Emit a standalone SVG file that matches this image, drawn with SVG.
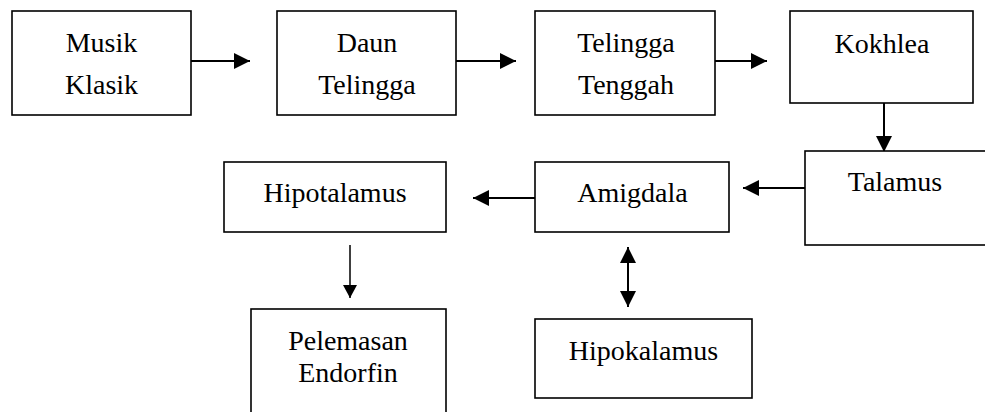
<svg xmlns="http://www.w3.org/2000/svg" width="985" height="412" viewBox="0 0 985 412">
<style>
.box{fill:#fff;stroke:#000;stroke-width:1.6}
.c{stroke:#000;stroke-width:2;fill:none}
.thin{stroke-width:1.5}
text{font-family:'Liberation Serif',serif;font-size:14px;fill:#000;text-anchor:middle}
</style>
<defs>
<marker id="ah" markerUnits="userSpaceOnUse" markerWidth="16" markerHeight="16" refX="15" refY="7.5" orient="auto-start-reverse" viewBox="0 0 15 15">
<path d="M0,0 L15,7.5 L0,15 z" fill="#000"/>
</marker>
<marker id="ahs" markerUnits="userSpaceOnUse" markerWidth="13" markerHeight="14" refX="13" refY="7" orient="auto" viewBox="0 0 13 14">
<path d="M0,0 L13,7 L0,14 z" fill="#000"/>
</marker>
</defs>
<rect width="985" height="412" fill="#fff"/>
<g id="connectors">
<line class="c" x1="191" y1="61" x2="250" y2="61" marker-end="url(#ah)"/>
<line class="c" x1="456" y1="61" x2="516" y2="61" marker-end="url(#ah)"/>
<line class="c" x1="715" y1="61" x2="767" y2="61" marker-end="url(#ah)"/>
<line class="c" x1="884" y1="103" x2="884" y2="152" marker-end="url(#ah)"/>
<line class="c" x1="805" y1="188" x2="743" y2="188" marker-end="url(#ah)"/>
<line class="c" x1="535" y1="198" x2="473" y2="198" marker-end="url(#ah)"/>
<line class="c thin" x1="350" y1="245" x2="350" y2="298" marker-end="url(#ahs)"/>
<line class="c" x1="628" y1="247" x2="628" y2="307" marker-start="url(#ah)" marker-end="url(#ah)"/>
</g>
<g id="musik-klasik">
<rect class="box" x="12" y="11" width="179" height="104"/>
<g transform="translate(101.5 0) scale(2)"><text x="0" y="26">Musik</text><text x="0" y="47">Klasik</text></g>
</g>
<g id="daun-telingga">
<rect class="box" x="277" y="11" width="179" height="104"/>
<g transform="translate(367 0) scale(2)"><text x="0" y="26">Daun</text><text x="0" y="47">Telingga</text></g>
</g>
<g id="telingga-tenggah">
<rect class="box" x="535" y="11" width="180" height="104"/>
<g transform="translate(626 0) scale(2)"><text x="0" y="26">Telingga</text><text x="0" y="47">Tenggah</text></g>
</g>
<g id="kokhlea">
<rect class="box" x="790" y="11" width="183" height="92"/>
<g transform="translate(882 0) scale(2)"><text x="0" y="26.5">Kokhlea</text></g>
</g>
<g id="talamus">
<rect class="box" x="805" y="151" width="190" height="94"/>
<g transform="translate(895 0) scale(2)"><text x="0" y="95.5">Talamus</text></g>
</g>
<g id="amigdala">
<rect class="box" x="535" y="162" width="194" height="70"/>
<g transform="translate(632.5 0) scale(2)"><text x="0" y="101">Amigdala</text></g>
</g>
<g id="hipotalamus">
<rect class="box" x="224" y="162" width="222" height="70"/>
<g transform="translate(335 0) scale(2)"><text x="0" y="101">Hipotalamus</text></g>
</g>
<g id="pelemasan-endorfin">
<rect class="box" x="251" y="309" width="195" height="120"/>
<g transform="translate(348 0) scale(2)"><text x="0" y="175">Pelemasan</text><text x="0" y="191">Endorfin</text></g>
</g>
<g id="hipokalamus">
<rect class="box" x="535" y="319" width="217" height="79"/>
<g transform="translate(643.5 0) scale(2)"><text x="0" y="180">Hipokalamus</text></g>
</g>
</svg>
